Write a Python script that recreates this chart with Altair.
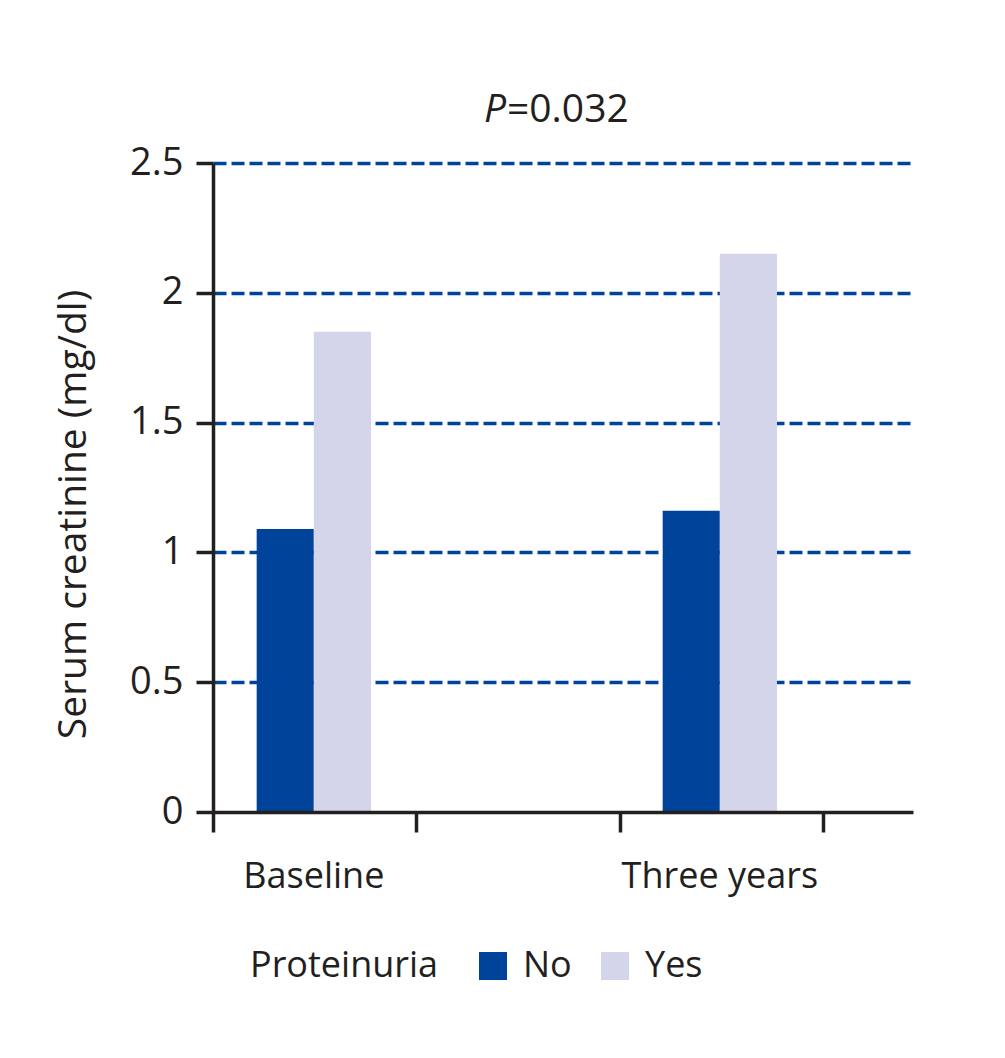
import altair as alt
import pandas as pd

# ---- data ----
timepoints = ["Baseline", "Baseline", "Three years", "Three years"]
proteinuria = ["No", "Yes", "No", "Yes"]
creatinine = [1.09, 1.85, 1.16, 2.15]
time_order = ["Baseline", "Three years"]
group_order = ["No", "Yes"]
y_ticks = [0, 0.5, 1, 1.5, 2, 2.5]
x_ticks = [0, 1, 2, 3]
colors = ["#00439a", "#d4d5ea"]
title_p = ["P"]
title_rest = ["=0.032"]

FONT = "Open Sans"
BLACK = "#231f20"
BLUE = "#00439a"

df = pd.DataFrame({"time": timepoints, "group": proteinuria, "value": creatinine})

bars = alt.Chart(df).mark_bar().encode(
    x=alt.X(
        "time:N",
        title=None,
        sort=time_order,
        scale=alt.Scale(paddingInner=0.7185, paddingOuter=0.2213, align=0.243),
        axis=alt.Axis(
            ticks=False, domain=False, grid=False, labelAngle=0, labelLimit=0,
            labelFont=FONT, labelFontSize=36, labelColor=BLACK, labelPadding=47,
            orient="bottom",
        ),
    ),
    xOffset=alt.XOffset("group:N", sort=group_order,
                        scale=alt.Scale(paddingInner=0, paddingOuter=0)),
    y=alt.Y(
        "value:Q",
        title="Serum creatinine (mg/dl)",
        scale=alt.Scale(domain=[0, 2.5], nice=False),
        axis=alt.Axis(
            values=y_ticks, format="~g",
            labelFont=FONT, labelFontSize=38, labelColor=BLACK, labelPadding=13,
            domainColor=BLACK, domainWidth=3.5,
            tickColor=BLACK, tickWidth=3.5, tickSize=17,
            grid=True, gridColor=BLUE, gridWidth=3.5, gridDash=[13, 5],
            gridOpacity=alt.condition("datum.value == 0", alt.value(0), alt.value(1)),
            titleFont=FONT, titleFontSize=39, titleFontWeight="normal",
            titleColor=BLACK, titlePadding=36, titleY=351, titleLimit=0,
        ),
    ),
    color=alt.Color(
        "group:N",
        scale=alt.Scale(domain=group_order, range=colors),
        legend=alt.Legend(
            title="Proteinuria", orient="none", legendX=37, legendY=785,
            direction="horizontal", titleOrient="left", titleLimit=0,
            titleFont=FONT, titleFontSize=36, titleFontWeight="normal", titleColor=BLACK,
            titlePadding=36, titleBaseline="middle",
            labelFont=FONT, labelFontSize=36, labelColor=BLACK, labelOffset=12,
            labelLimit=0,
            symbolType="square", symbolSize=784, symbolStrokeWidth=0,
            columnPadding=25,
        ),
    ),
)

tick_df = pd.DataFrame({"t": x_ticks})
xticks = alt.Chart(tick_df).mark_point(opacity=0).encode(
    x=alt.X(
        "t:Q",
        title=None,
        scale=alt.Scale(domain=[0, 3.443], nice=False, zero=False),
        axis=alt.Axis(
            values=x_ticks, labels=False, grid=False, orient="bottom",
            domain=True, domainColor=BLACK, domainWidth=3.5,
            ticks=True, tickColor=BLACK, tickWidth=3.5, tickSize=20, zindex=1,
        ),
    )
)

p_text = alt.Chart(pd.DataFrame({"p": title_p})).mark_text(
    font=FONT, fontSize=39, fontStyle="italic", align="right",
    baseline="alphabetic", color=BLACK,
).encode(text="p:N", x=alt.value(293), y=alt.value(-41))

rest_text = alt.Chart(pd.DataFrame({"r": title_rest})).mark_text(
    font=FONT, fontSize=39, align="left", baseline="alphabetic", color=BLACK,
).encode(text="r:N", x=alt.value(294), y=alt.value(-41))

chart = (
    alt.layer(bars, xticks, p_text, rest_text)
    .resolve_scale(x="independent")
    .properties(
        width=700, height=649,
        autosize=alt.AutoSizeParams(type="none"),
        padding={"left": 205, "top": 155, "right": 80, "bottom": 228},
    )
    .configure_view(stroke=None)
)

chart.save("out.html", embed_options={"renderer": "svg", "actions": False})
